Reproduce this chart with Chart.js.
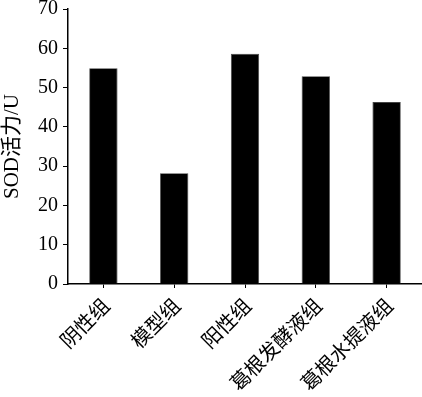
<!DOCTYPE html>
<html>
<head>
<meta charset="utf-8">
<script src="https://cdn.jsdelivr.net/npm/chart.js@4"></script>
<style>
  html, body { margin: 0; padding: 0; background: #fff; }
  #wrap { width: 422px; height: 397px; position: relative; }
</style>
</head>
<body>
<div id="wrap"><canvas id="sodChart"></canvas></div>
<script>
// categories and values
const groups = ['阴性组', '模型组', '阳性组', '葛根发酵液组', '葛根水提液组'];
const sodValues = [54.9, 28.2, 58.6, 52.9, 46.3];
const yTicks = [0, 10, 20, 30, 40, 50, 60, 70];

const fontFamily = '"Liberation Serif", "Times New Roman", "Noto Sans CJK SC", serif';

new Chart(document.getElementById('sodChart'), {
    type: 'bar',
    data: {
        labels: groups,
        datasets: [{
            label: 'SOD活力/U',
            data: sodValues,
            backgroundColor: '#000',
            borderColor: '#444',
            borderWidth: 0.8,
            barPercentage: 0.4,
            categoryPercentage: 1.0
        }]
    },
    options: {
        responsive: true,
        maintainAspectRatio: false,
        animation: false,
        layout: { padding: 0 },
        plugins: {
            legend: { display: false },
            tooltip: { enabled: false }
        },
        scales: {
            x: {
                afterFit: scale => { scale.height = 113; },
                grid: { display: true, drawOnChartArea: false, drawTicks: true, tickLength: 4, color: '#000', offset: false },
                border: { color: '#000', width: 1.5 },
                ticks: {
                    color: '#000',
                    maxRotation: 45,
                    minRotation: 45,
                    autoSkip: false,
                    padding: 7,
                    labelOffset: 4,
                    font: { family: fontFamily, size: 20 }
                }
            },
            y: {
                min: 0,
                max: 70,
                afterBuildTicks: axis => { axis.ticks = yTicks.map(v => ({ value: v })); },
                afterFit: scale => { scale.width = 68; scale.paddingTop = 9; },
                grid: { display: true, drawOnChartArea: false, drawTicks: true, tickLength: 5, color: '#000' },
                border: { color: '#000', width: 1.5 },
                ticks: {
                    color: '#000',
                    padding: 5,
                    font: { family: fontFamily, size: 20 }
                },
                title: {
                    display: true,
                    text: 'SOD活力/U',
                    color: '#000',
                    padding: { top: 0, bottom: 0 },
                    font: { family: fontFamily, size: 21 }
                }
            }
        }
    }
});
</script>
</body>
</html>
